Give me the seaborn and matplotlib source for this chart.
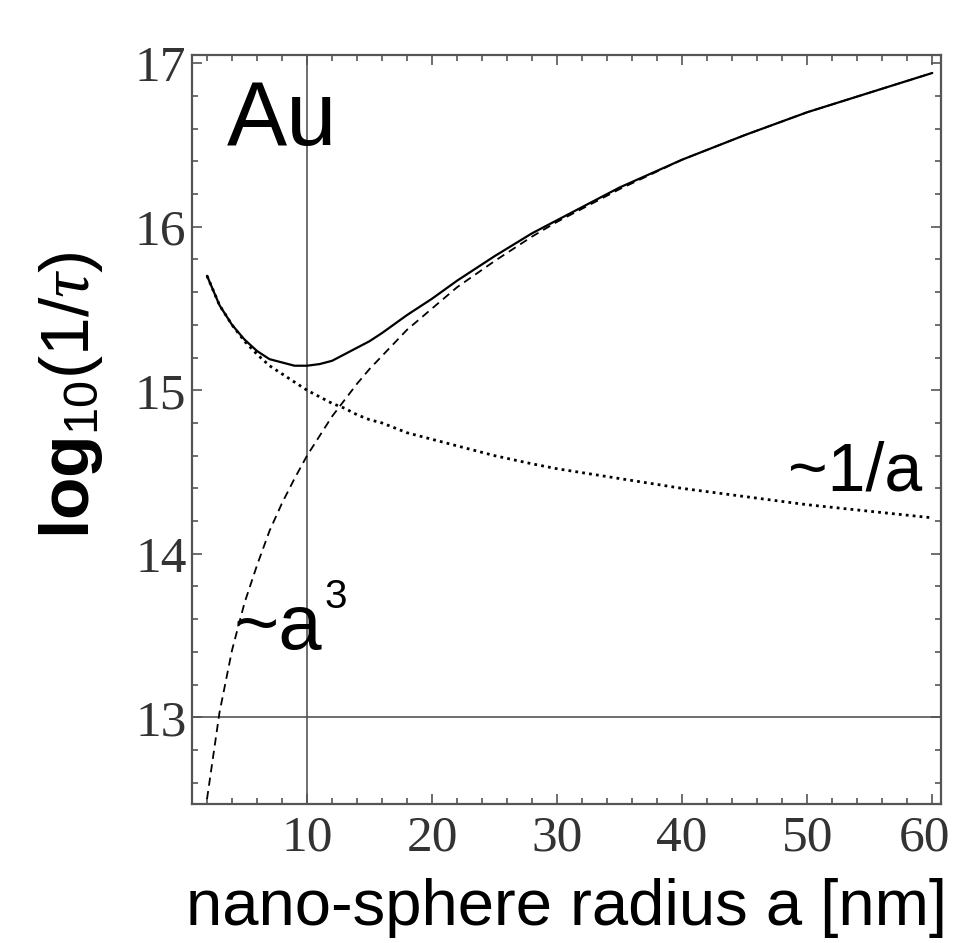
import matplotlib
matplotlib.use("Agg")
import matplotlib.pyplot as plt
import matplotlib.transforms as mtransforms
import seaborn as sns
import pandas as pd
from matplotlib.ticker import MultipleLocator

# radius a [nm]
radius = [2, 3, 4, 5, 6, 7, 8, 9, 10, 11, 12, 13, 14, 15, 16, 18, 20, 22, 25, 28, 30, 35, 40, 45, 50, 55, 60]
# total (solid)
total = [15.70, 15.52, 15.40, 15.31, 15.24, 15.19, 15.17, 15.15, 15.15, 15.16, 15.18, 15.22, 15.26, 15.30,
         15.35, 15.46, 15.56, 15.67, 15.82, 15.96, 16.04, 16.24, 16.41, 16.56, 16.70, 16.82, 16.94]
# ~1/a (dotted)
inv_a = [15.70, 15.52, 15.40, 15.30, 15.22, 15.15, 15.10, 15.05, 15.00, 14.96, 14.92, 14.89, 14.85, 14.82,
         14.80, 14.74, 14.70, 14.66, 14.60, 14.55, 14.52, 14.46, 14.40, 14.35, 14.30, 14.26, 14.22]
# ~a^3 (dashed)
cube_a = [12.50, 13.03, 13.41, 13.70, 13.93, 14.14, 14.31, 14.46, 14.60, 14.72, 14.84, 14.94, 15.04, 15.13,
          15.21, 15.37, 15.50, 15.63, 15.79, 15.94, 16.03, 16.23, 16.41, 16.56, 16.70, 16.82, 16.94]

x_ticks = [10, 20, 30, 40, 50, 60]
y_ticks = [13, 14, 15, 16, 17]

sns.set_style("ticks")
plt.rcParams["mathtext.fontset"] = "custom"
plt.rcParams["mathtext.rm"] = "Liberation Sans"
plt.rcParams["mathtext.bf"] = "Liberation Sans:bold"
plt.rcParams["mathtext.it"] = "Liberation Serif:italic"

df = pd.DataFrame({"a": radius, "total": total, "inv": inv_a, "cube": cube_a})

fig = plt.figure(figsize=(9.55, 9.43), dpi=100)
ax = fig.add_axes([192/955, 1 - 804/943, 749/955, 749/943])

gray = "#555555"
ax.axvline(10, color=gray, lw=1.2, zorder=1)
ax.axhline(13, color=gray, lw=1.2, zorder=1)

sns.lineplot(data=df, x="a", y="cube", ax=ax, color="black", lw=1.3,
             estimator=None, sort=False, linestyle=(0, (4.5, 3)))
sns.lineplot(data=df, x="a", y="inv", ax=ax, color="black", lw=2.0,
             estimator=None, sort=False, linestyle=(0, (1, 1.5)))
sns.lineplot(data=df, x="a", y="total", ax=ax, color="black", lw=1.6,
             estimator=None, sort=False, linestyle="-")

ax.set_xlim(0.8, 60.7)
ax.set_ylim(12.47, 17.05)

ax.set_xticks(x_ticks)
ax.set_yticks(y_ticks)
ax.xaxis.set_minor_locator(MultipleLocator(2))
ax.yaxis.set_minor_locator(MultipleLocator(0.2))
ax.tick_params(which="both", direction="in", top=True, right=True, color=gray, width=1.2)
ax.tick_params(which="major", length=7)
ax.tick_params(which="minor", length=4.5)
ax.tick_params(axis="x", which="major", pad=8)
ax.tick_params(axis="y", which="major", pad=4)
for lab in ax.get_xticklabels() + ax.get_yticklabels():
    lab.set_fontfamily("Liberation Serif")
    lab.set_fontsize(37)
    lab.set_color("#333333")

# nudge the last x tick label ("60") slightly left so it stays inside the figure
last = ax.get_xticklabels()[-1]
last.set_transform(last.get_transform() +
                   mtransforms.ScaledTranslation(-8/100, 0, fig.dpi_scale_trans))

for s in ax.spines.values():
    s.set_color(gray)
    s.set_linewidth(1.6)
    s.set_visible(True)

ax.set_xlabel("nano-sphere radius a [nm]", fontfamily="Liberation Sans", fontsize=47,
              color="black", labelpad=12)
ax.set_ylabel(r"$\mathbf{log}_{\mathrm{10}}\mathrm{(1/}\tau\mathrm{)}$", fontsize=50, color="black")
ax.yaxis.set_label_coords(-0.116, 0.546)

ax.text(3.6, 16.5, "Au", fontfamily="Liberation Sans", fontsize=65, color="black",
        ha="left", va="baseline")
ax.text(48.5, 14.39, "~1/a", fontfamily="Liberation Sans", fontsize=49, color="black",
        ha="left", va="baseline")
ax.text(4.1, 13.42, "~a", fontfamily="Liberation Sans", fontsize=56, color="black",
        ha="left", va="baseline")
ax.text(11.4, 13.67, "3", fontfamily="Liberation Sans", fontsize=29, color="black",
        ha="left", va="baseline")

fig.savefig("out.png", dpi=100)
